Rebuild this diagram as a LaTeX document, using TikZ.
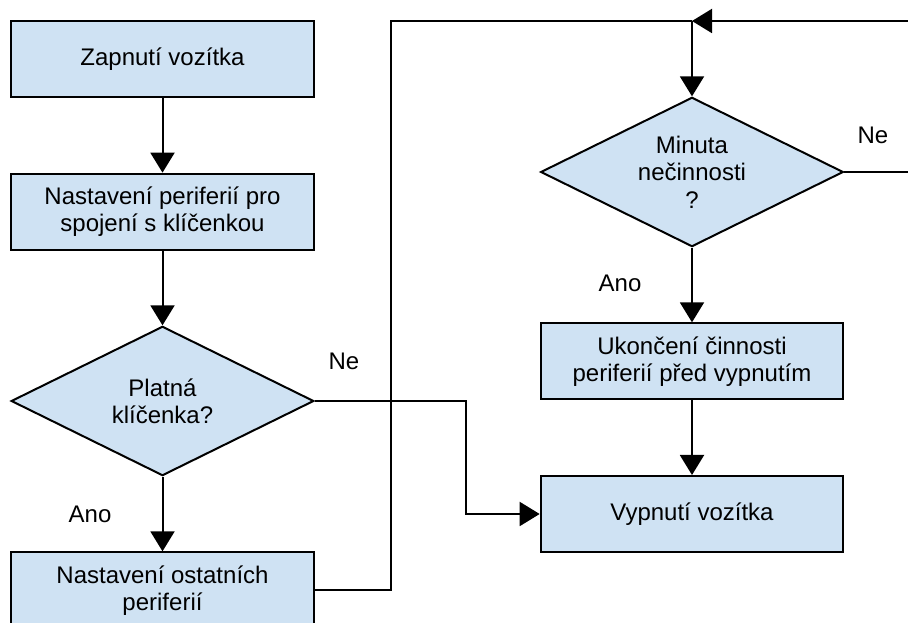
\documentclass[tikz,border=0pt]{standalone}
\usepackage{fontspec}
\setmainfont{Liberation Sans}
\usepackage{tikz}
\usetikzlibrary{positioning,shapes.geometric,arrows.meta}
\definecolor{boxblue}{RGB}{207,226,243}

\begin{document}
\begin{tikzpicture}[
      x=0.75pt, y=0.75pt,
      node distance=56pt,
      font=\fontsize{18}{20.5}\selectfont,
      stepbox/.style={rectangle, draw, line width=1.5pt, fill=boxblue, minimum width=227pt, minimum height=57pt, align=center},
      decision/.style={diamond, draw, line width=1.5pt, fill=boxblue, aspect=2, inner sep=0pt, minimum width=227pt, minimum height=112pt, align=center},
      flow/.style={line width=1.5pt, -{Triangle[length=15pt,width=18pt]}},
      plain/.style={line width=1.5pt}]
    \useasboundingbox (0,0) rectangle (908,-623);
    \clip (0,0) rectangle (908,-623);
    % left column
    \node[stepbox] (start) at (162.5,-59) {Zapnutí vozítka};
    \node[stepbox, below=of start] (setkey) {Nastavení periferií pro\\spojení s klíčenkou};
    \node[decision, below=of setkey] (validkey) {Platná\\klíčenka?};
    \node[stepbox, below=of validkey] (setrest) {Nastavení ostatních\\periferií};
    % right column
    \node[decision] (idle) at (692,-172) {Minuta\\nečinnosti\\?};
    \node[stepbox, below=of idle] (stopper) {Ukončení činnosti\\periferií před vypnutím};
    \node[stepbox, below=of stopper] (stop) {Vypnutí vozítka};
    \coordinate (loop) at (692,-21);
    % answers
    \node (keyno) at (344,-361) {Ne};
    \node (keyyes) at (90,-514) {Ano};
    \node (idleno) at (873,-135) {Ne};
    \node (idleyes) at (620,-283) {Ano};
    % connectors
    \draw[flow] (start) -- (setkey);
    \draw[flow] (setkey) -- (validkey);
    \draw[flow] (validkey) -- (setrest);
    \draw[flow] (validkey.east) -- ++(151,0) |- (stop.west);
    \draw[plain] (setrest.east) -- ++(76,0) |- (loop);
    \draw[flow] (idle.east) -- ++(100,0) |- (loop);
    \draw[flow] (loop) -- (idle.north);
    \draw[flow] (idle) -- (stopper);
    \draw[flow] (stopper) -- (stop);
  \end{tikzpicture}
\end{document}
